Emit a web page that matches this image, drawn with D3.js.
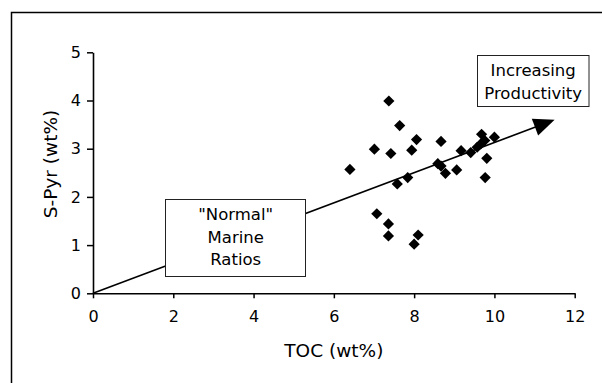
<!DOCTYPE html>
<html><head><meta charset="utf-8">
<script src="https://cdn.jsdelivr.net/npm/d3@7"></script>
<style>html,body{margin:0;padding:0;background:#fff;}svg{display:block;font-family:"DejaVu Sans",Verdana,sans-serif;}</style>
</head><body><svg id="c" width="602" height="383"></svg>
<script>
const tocValues = [7.37,7.64,8.06,7.01,7.42,7.94,8.67,6.40,7.58,7.84,8.59,8.67,8.78,9.06,9.17,9.41,9.57,9.66,9.76,9.68,10.0,9.81,9.77,7.07,7.36,7.36,8.10,8.00];
const sPyrValues = [3.99,3.48,3.19,2.99,2.90,2.97,3.15,2.57,2.27,2.40,2.69,2.64,2.49,2.56,2.96,2.92,3.03,3.10,3.17,3.30,3.24,2.80,2.40,1.65,1.44,1.19,1.21,1.02];
const xTicks = [0,2,4,6,8,10,12];
const yTicks = [0,1,2,3,4,5];
const xTitle = "TOC (wt%)";
const yTitle = "S-Pyr (wt%)";
const trendStart = [0,0];
const trendEnd = [11.5,3.6];
const productivityLines = ["Increasing","Productivity"];
const marineLines = ["\"Normal\"","Marine","Ratios"];

const svg = d3.select("#c");
const x = d3.scaleLinear().domain([0,12]).range([93,574.7]);
const y = d3.scaleLinear().domain([0,5]).range([293.3,52.3]);

// outer frame
svg.append("rect").attr("x",11.5).attr("y",12.5).attr("width",700).attr("height",500)
  .attr("fill","none").attr("stroke","#000").attr("stroke-width",1.5);

// trend line with arrow
const x0 = x(trendStart[0]), y0 = y(trendStart[1]), x1 = x(trendEnd[0]), y1 = y(trendEnd[1]);
const ang = Math.atan2(y1-y0, x1-x0);
const hl = 21, hw = 9;
const bx = x1 - hl*Math.cos(ang), by = y1 - hl*Math.sin(ang);
svg.append("line").attr("x1",x0).attr("y1",y0).attr("x2",bx+2*Math.cos(ang)).attr("y2",by+2*Math.sin(ang))
  .attr("stroke","#000").attr("stroke-width",1.6);
svg.append("path").attr("d",`M${x1},${y1}L${bx - hw*Math.sin(ang)},${by + hw*Math.cos(ang)}L${bx + hw*Math.sin(ang)},${by - hw*Math.cos(ang)}Z`)
  .attr("fill","#000");

// axes
const xAxis = svg.append("g").attr("transform",`translate(0,${y(0)})`)
  .call(d3.axisBottom(x).tickValues(xTicks).tickFormat(d3.format("d")).tickSize(5).tickPadding(12).tickSizeOuter(0));
const yAxis = svg.append("g").attr("transform",`translate(${x(0)},0)`)
  .call(d3.axisLeft(y).tickValues(yTicks).tickFormat(d3.format("d")).tickSize(6).tickPadding(6).tickSizeOuter(0));
[xAxis,yAxis].forEach(g=>{
  g.select(".domain").attr("stroke","#000").attr("stroke-width",1.6);
  g.selectAll(".tick line").attr("stroke","#000").attr("stroke-width",1.5);
  g.selectAll(".tick text").attr("fill","#000").style("font-size","16px").style("font-family","DejaVu Sans, sans-serif");
});

// axis titles
svg.append("text").attr("x",(x(0)+x(12))/2).attr("y",357).attr("text-anchor","middle")
  .style("font-size","18.5px").text(xTitle);
svg.append("text").attr("transform","translate(57,164) rotate(-90)").attr("text-anchor","middle")
  .style("font-size","18.5px").text(yTitle);

// points
const pts = tocValues.map((v,i)=>[v,sPyrValues[i]]);
const r = 5.6;
svg.append("g").selectAll("path").data(pts).join("path")
  .attr("d",d=>{const cx=x(d[0]), cy=y(d[1]); return `M${cx},${cy-r}L${cx+r},${cy}L${cx},${cy+r}L${cx-r},${cy}Z`;})
  .attr("fill","#000");

// Normal marine box
svg.append("rect").attr("x",165.5).attr("y",199.5).attr("width",140).attr("height",77)
  .attr("fill","#fff").attr("stroke","#222").attr("stroke-width",1);
svg.append("g").selectAll("text").data(marineLines).join("text")
  .attr("x",235.7).attr("y",(d,i)=>220+i*22.5).attr("text-anchor","middle")
  .style("font-size","16.5px").text(d=>d);

// Increasing productivity box
svg.append("rect").attr("x",477.5).attr("y",55.5).attr("width",111.5).attr("height",51)
  .attr("fill","#fff").attr("stroke","#222").attr("stroke-width",1);
svg.append("g").selectAll("text").data(productivityLines).join("text")
  .attr("x",533.2).attr("y",(d,i)=>76+i*23).attr("text-anchor","middle")
  .style("font-size","16.5px").text(d=>d);
</script></body></html>
